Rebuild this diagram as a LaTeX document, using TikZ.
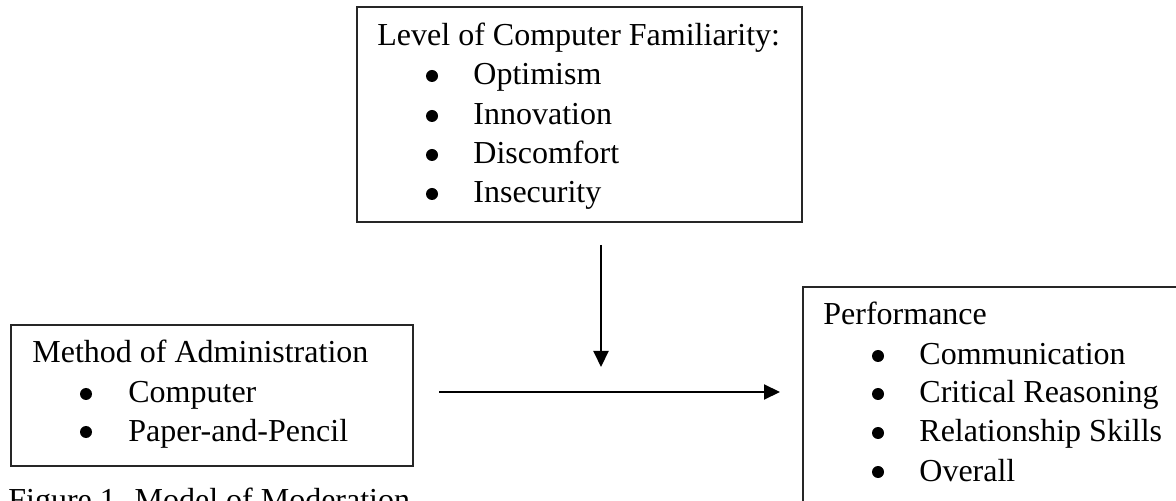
\documentclass[tikz,border=0pt]{standalone}
\usepackage{fontspec}
\setmainfont{Liberation Serif}
\usetikzlibrary{arrows.meta}
\tikzset{
  px/.style={x=0.5pt,y=-0.5pt},
  box/.style={draw=black!85,line width=0.65pt},
  txt/.style={anchor=base west,inner sep=0pt,font=\fontsize{16}{19}\selectfont},
  bul/.style={fill=black},
  conn/.style={line width=1pt,-{Triangle[length=8pt,width=7.5pt]}}
}
\begin{document}
\begin{tikzpicture}[px]
\useasboundingbox (0,0) rectangle (1176,501);
\clip (0,0) rectangle (1176,501);
% boxes
\draw[box] (357,7) rectangle (802,222);
\draw[box] (11,325) rectangle (413,466);
\draw[box] (803,287) rectangle (1220,560);
% top box text
\node[txt] (t0) at (377,46) {Level of Computer Familiarity:};
\node[txt] (t1) at (473,85) {Optimism};
\node[txt] (t2) at (473,125) {Innovation};
\node[txt] (t3) at (473,164) {Discomfort};
\node[txt] (t4) at (473,203) {Insecurity};
\foreach \y in {85,125,164,203} \fill[bul] (432,\y-9) circle (6);
% left box text
\node[txt] (l0) at (32,363) {Method of Administration};
\node[txt] (l1) at (128,403) {Computer};
\node[txt] (l2) at (128,441) {Paper-and-Pencil};
\foreach \y in {403,441} \fill[bul] (86,\y-9) circle (6);
% right box text
\node[txt] (r0) at (823,325) {Performance};
\node[txt] (r1) at (919,365) {Communication};
\node[txt] (r2) at (919,403) {Critical Reasoning};
\node[txt] (r3) at (919,442) {Relationship Skills};
\node[txt] (r4) at (919,481) {Overall};
\foreach \y in {365,403,442,481} \fill[bul] (878,\y-9) circle (6);
% caption
\node[txt] (cap) at (8,510) {Figure 1. Model of Moderation};
% arrows
\coordinate (va) at (601,245);
\coordinate (vb) at (601,367);
\coordinate (ha) at (439,392);
\coordinate (hb) at (780,392);
\draw[conn] (va) -- (vb);
\draw[conn] (ha) -- (hb);
\end{tikzpicture}
\end{document}
